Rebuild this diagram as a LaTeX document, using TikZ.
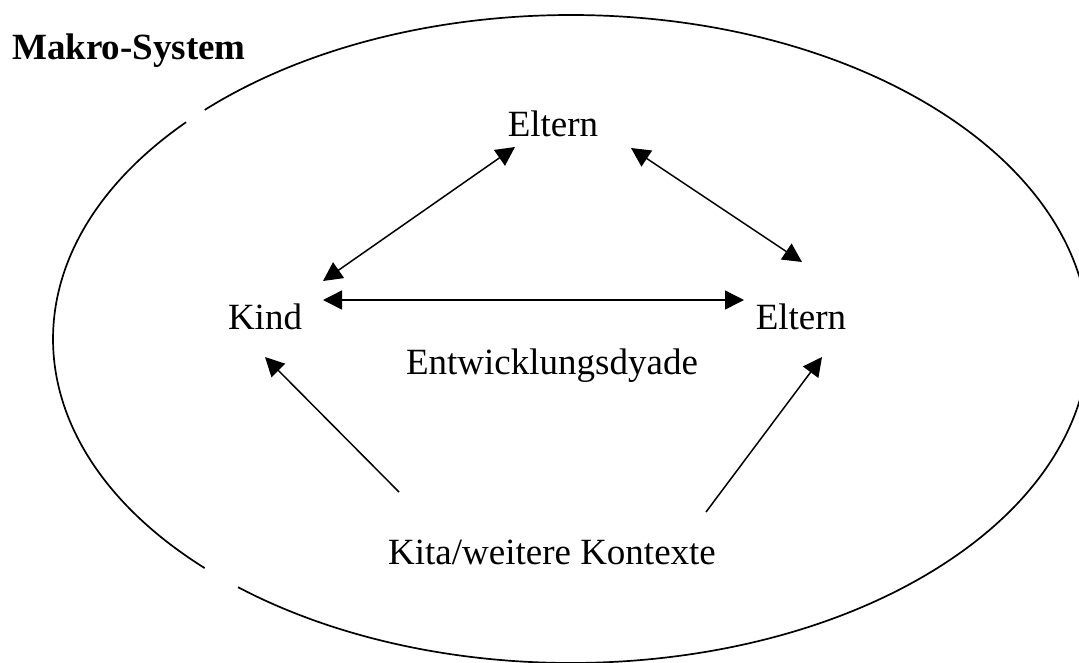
\documentclass[tikz,border=0pt]{standalone}
\usepackage{fontspec}
\setmainfont{Liberation Serif}
\usetikzlibrary{arrows.meta}
\begin{document}
\begin{tikzpicture}[x=1pt,y=-1pt,
  label/.style={inner sep=0pt, anchor=base, font=\fontsize{37}{44}\selectfont},
  tip/.style={Triangle[length=19pt,width=19pt]},
  link/.style={line width=1.5pt, -{Triangle[length=19pt,width=19pt]}},
  biglink/.style={line width=1.5pt, {Triangle[length=19pt,width=19pt]}-{Triangle[length=19pt,width=19pt]}},
  outline/.style={line width=1.7pt}]
  \useasboundingbox (0,0) rectangle (1079,662);
  \clip (0,0) rectangle (1079,662);

  % the enclosing macro system, open at two places on the left
  \draw[outline, shift={(571,339)}] (135:518 and 324)
    arc[start angle=135, end angle=222, x radius=518, y radius=324];
  \draw[outline, shift={(571,339)}] (225:518 and 324)
    arc[start angle=225, end angle=490, x radius=518, y radius=324];

  % labels
  \node[label, anchor=base west, font=\fontsize{37}{44}\selectfont\bfseries] (makro) at (12,59) {Makro-System};
  \node[label] (elternTop) at (553,136) {Eltern};
  \node[label] (kind) at (265,329) {Kind};
  \node[label] (elternRight) at (801,329) {Eltern};
  \node[label] (dyade) at (552,374) {Entwicklungsdyade};
  \node[label] (kita) at (552,564) {Kita/weitere Kontexte};

  % arrow end points
  \coordinate (ulA) at (515,147);
  \coordinate (ulB) at (323,281);
  \coordinate (urA) at (631,148);
  \coordinate (urB) at (802,262);
  \coordinate (hA) at (323,300);
  \coordinate (hB) at (744,300);
  \coordinate (llA) at (399,492);
  \coordinate (llB) at (265,357);
  \coordinate (lrA) at (706,512);
  \coordinate (lrB) at (822,357);

  \draw[biglink] (ulB) -- (ulA);
  \draw[biglink] (urA) -- (urB);
  \draw[biglink] (hA) -- (hB);
  \draw[link] (llA) -- (llB);
  \draw[link] (lrA) -- (lrB);
\end{tikzpicture}
\end{document}
